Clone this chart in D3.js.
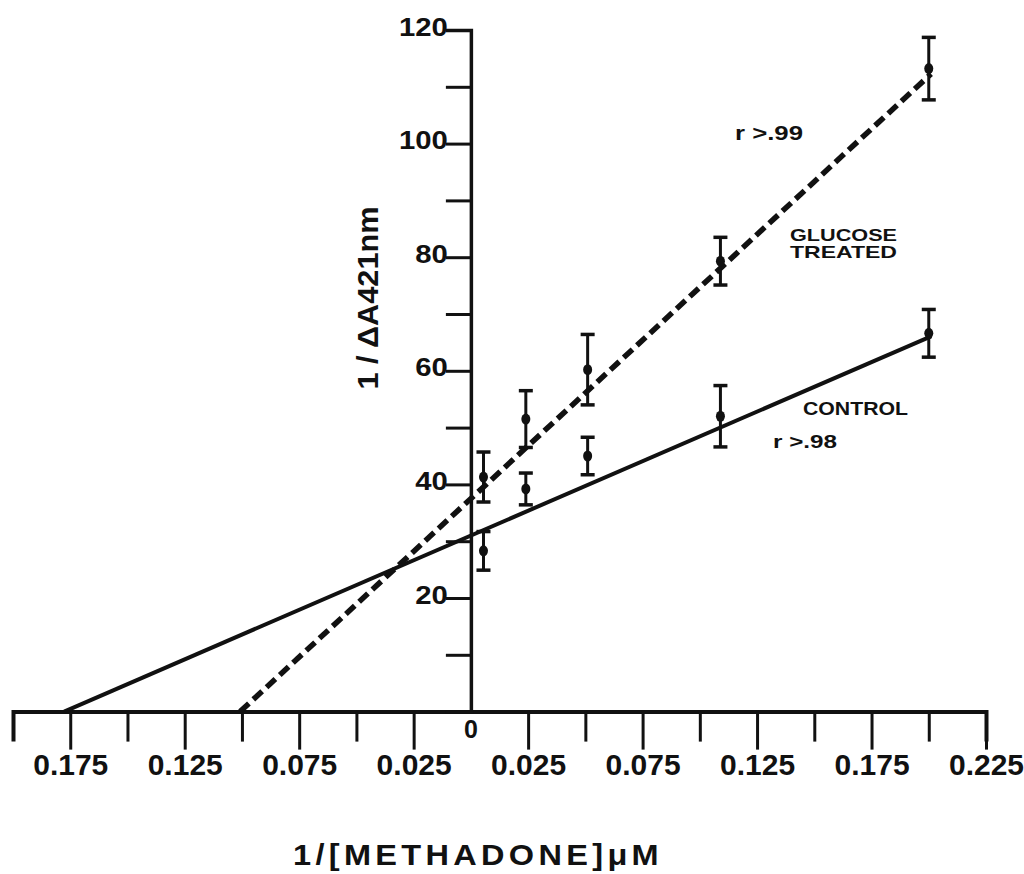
<!DOCTYPE html>
<html>
<head>
<meta charset="utf-8">
<script src="https://cdn.jsdelivr.net/npm/d3@7"></script>
<style>
  body { margin: 0; background: #fff; }
  svg { display: block; font-family: "Liberation Sans", Arial, Helvetica, sans-serif; }
</style>
</head>
<body>
<svg id="chart" width="1024" height="874"></svg>
<script>
// Double-reciprocal plot of the methadone-induced spectral change (421 nm)

// 1/[methadone] values (µM^-1) of the measured points
const invConc = [0.0055, 0.024, 0.051, 0.109, 0.200];

// control microsomes: mean 1/ΔA421 and error half-width
const controlMean = [28.3, 39.2, 45.0, 52.0, 66.6];
const controlErr  = [3.4, 2.8, 3.3, 5.4, 4.2];

// glucose treated: mean 1/ΔA421 and error half-width
const glucoseMean = [41.3, 51.5, 60.2, 79.3, 113.2];
const glucoseErr  = [4.4, 5.0, 6.2, 4.2, 5.5];

// regression lines [intercept, slope], drawn from the x intercept up to fitEnd
const controlFit = [31.0, 174.5];
const glucoseFit = [37.5, 372];
const fitEnd = 0.201;

// axis ticks
const xTickSteps = [-8, -7, -6, -5, -4, -3, -2, -1, 1, 2, 3, 4, 5, 6, 7, 8, 9]; // multiples of 0.025
const xLabelSteps = [-7, -5, -3, -1, 1, 3, 5, 7, 9];
const yTicks = [10, 20, 30, 40, 50, 60, 70, 80, 90, 100, 110, 120];
const yLabelled = [20, 40, 60, 80, 100, 120];

const annotations = [
  { text: "r >.99",  x: 735, y: 140, size: 20, len: 68 },
  { text: "GLUCOSE", x: 790, y: 241, size: 17, len: 107 },
  { text: "TREATED", x: 790, y: 258, size: 17, len: 107 },
  { text: "CONTROL", x: 803, y: 415, size: 19, len: 105 },
  { text: "r >.98",  x: 773, y: 448, size: 19, len: 64 }
];

const svg = d3.select("#chart");
const ink = "#111";

const x = d3.scaleLinear().domain([-0.2, 0.225]).range([13, 986]);
const y = d3.scaleLinear().domain([0, 120]).range([711.6, 30]);

const xTicks = xTickSteps.map(s => +(s * 0.025).toFixed(3));
const xLabels = xLabelSteps.map(s => +(s * 0.025).toFixed(3));
const isXLabel = v => xLabels.some(l => Math.abs(l - v) < 1e-9);

// ---- x axis ----
const xAxis = d3.axisBottom(x)
  .tickValues(xTicks)
  .tickSizeOuter(0)
  .tickSize(30)
  .tickPadding(8)
  .tickFormat(v => isXLabel(v) ? d3.format(".3f")(Math.abs(v)) : "");

const gx = svg.append("g")
  .attr("transform", `translate(0,${y(0)})`)
  .call(xAxis);
gx.select(".domain").attr("stroke", ink).attr("stroke-width", 4);
gx.selectAll(".tick line")
  .attr("stroke", ink).attr("stroke-width", 3)
  .attr("y2", v => isXLabel(v) ? 38 : (v === -0.2 ? 22 : 30));
gx.selectAll(".tick text")
  .attr("y", 42).attr("dy", "0.72em")
  .attr("fill", ink)
  .style("font-size", "30px").style("font-weight", "bold");

// "0" sits just under the origin
svg.append("text")
  .attr("x", x(0)).attr("y", 738)
  .attr("text-anchor", "middle")
  .attr("fill", ink)
  .style("font-size", "25px").style("font-weight", "bold")
  .text("0");

// ---- y axis ----
const yAxis = d3.axisLeft(y)
  .tickValues(yTicks)
  .tickSizeOuter(0)
  .tickSize(25)
  .tickPadding(0)
  .tickFormat(v => yLabelled.includes(v) ? String(v) : "");

const gy = svg.append("g")
  .attr("transform", `translate(${x(0)},0)`)
  .call(yAxis);
gy.select(".domain").attr("stroke", ink).attr("stroke-width", 3.5);
gy.selectAll(".tick line").attr("stroke", ink).attr("stroke-width", 3);
gy.selectAll(".tick text")
  .attr("x", -23).attr("dy", "5px")
  .attr("fill", ink)
  .style("font-size", "25px").style("font-weight", "bold")
  .each(function (v) {
    if (yLabelled.includes(v)) {
      d3.select(this)
        .attr("textLength", String(v).length * 16.3)
        .attr("lengthAdjust", "spacingAndGlyphs");
    }
  });

// ---- regression lines ----
const fitLine = d3.line().x(d => x(d[0])).y(d => y(d[1]));
function fitPoints(fit) {
  const x0 = -fit[0] / fit[1];
  return [[x0, 0], [fitEnd, fit[0] + fit[1] * fitEnd]];
}

svg.append("path")
  .datum(fitPoints(controlFit))
  .attr("d", fitLine)
  .attr("fill", "none")
  .attr("stroke", ink)
  .attr("stroke-width", 4);

svg.append("path")
  .datum(fitPoints(glucoseFit))
  .attr("d", fitLine)
  .attr("fill", "none")
  .attr("stroke", ink)
  .attr("stroke-width", 5.5)
  .attr("stroke-dasharray", "12,6");

// ---- data points with error bars ----
function drawSeries(means, errs, cls) {
  const pts = invConc.map((c, i) => ({ c, m: means[i], e: errs[i] }));
  const g = svg.append("g").attr("class", cls);
  const pt = g.selectAll("g").data(pts).join("g");
  pt.append("line")
    .attr("x1", d => x(d.c)).attr("x2", d => x(d.c))
    .attr("y1", d => y(d.m + d.e)).attr("y2", d => y(d.m - d.e))
    .attr("stroke", ink).attr("stroke-width", 3);
  [1, -1].forEach(sign => {
    pt.append("line")
      .attr("x1", d => x(d.c) - 7).attr("x2", d => x(d.c) + 7)
      .attr("y1", d => y(d.m + sign * d.e)).attr("y2", d => y(d.m + sign * d.e))
      .attr("stroke", ink).attr("stroke-width", 3.5);
  });
  pt.append("ellipse")
    .attr("cx", d => x(d.c)).attr("cy", d => y(d.m))
    .attr("rx", 4.5).attr("ry", 5.5)
    .attr("fill", ink);
}
drawSeries(controlMean, controlErr, "control");
drawSeries(glucoseMean, glucoseErr, "glucose");

// ---- labels ----
svg.append("g").selectAll("text")
  .data(annotations)
  .join("text")
  .attr("x", d => d.x).attr("y", d => d.y)
  .attr("textLength", d => d.len)
  .attr("lengthAdjust", "spacingAndGlyphs")
  .attr("fill", ink)
  .style("font-size", d => d.size + "px")
  .style("font-weight", "bold")
  .text(d => d.text);

// axis titles
svg.append("text")
  .attr("x", 293).attr("y", 865)
  .attr("textLength", 370)
  .attr("lengthAdjust", "spacingAndGlyphs")
  .attr("fill", ink)
  .style("font-size", "30px").style("font-weight", "bold")
  .style("letter-spacing", "4px")
  .text("1/[METHADONE]\u03BCM");

svg.append("text")
  .attr("transform", "translate(378,298) rotate(-90)")
  .attr("text-anchor", "middle")
  .attr("textLength", 183)
  .attr("lengthAdjust", "spacingAndGlyphs")
  .attr("fill", ink)
  .style("font-size", "29px").style("font-weight", "bold")
  .text("1 / \u0394A421nm");
</script>
</body>
</html>
